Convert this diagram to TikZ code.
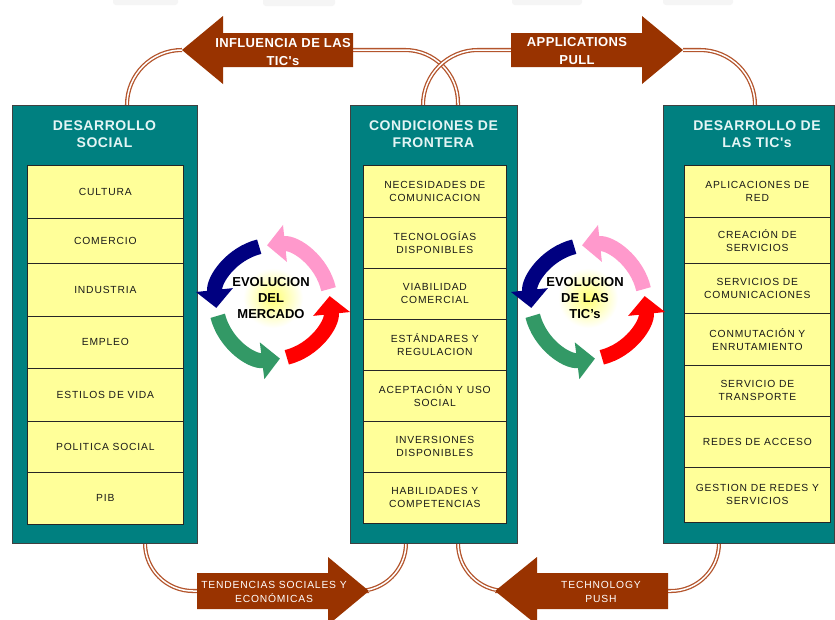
\documentclass[tikz,border=0pt]{standalone}
\usepackage{fontspec}
\setmainfont{Liberation Sans}
\usetikzlibrary{arrows.meta}
\newfontfamily\myCellFam[LetterSpace=8]{Liberation Sans}
\newfontfamily\myTitleFam[LetterSpace=4]{Liberation Sans}
\newfontfamily\myArrFam[LetterSpace=3]{Liberation Sans}
\newcommand\myCellFont{\myCellFam\fontsize{10.3}{13}\selectfont}
\newcommand\myTitleFont{\myTitleFam\bfseries\fontsize{14}{17}\selectfont}
\newcommand\myTopArrFont{\myArrFam\bfseries\fontsize{13}{18}\selectfont}
\newcommand\myBotArrFont{\myCellFam\fontsize{10.3}{14}\selectfont}
\newcommand\myCycFont{\bfseries\fontsize{13}{16}\selectfont}
\definecolor{tealbox}{RGB}{0,128,128}
\definecolor{cellyel}{RGB}{255,255,153}
\definecolor{arrowbrown}{RGB}{153,51,0}
\definecolor{linkbrown}{RGB}{180,85,45}
\definecolor{navyarr}{RGB}{0,0,128}
\definecolor{pinkarr}{RGB}{255,153,204}
\definecolor{redarr}{RGB}{255,0,0}
\definecolor{greenarr}{RGB}{51,153,102}
\definecolor{titlecol}{RGB}{228,245,245}
\begin{document}
\begin{tikzpicture}[x=1pt,y=1pt,
  frame/.style={draw=black!75, line width=0.8pt, fill=tealbox, inner sep=0pt, anchor=north west},
  cell/.style={draw=black!85, line width=0.7pt, fill=cellyel, inner sep=0pt, anchor=north west, align=center, font=\myCellFont, text=black!90},
  boxtitle/.style={align=center, text=titlecol, font=\myTitleFont, inner sep=0pt},
  bigarrow/.style={fill=arrowbrown, draw=none},
  toplabel/.style={align=center, text=white, inner sep=0pt, font=\myTopArrFont},
  botlabel/.style={align=center, text=white, inner sep=0pt, font=\myBotArrFont},
  link/.style={draw=linkbrown, double=white, line width=1.3pt, double distance=1.5pt},
  cyc/.style={line width=15pt, -{Triangle[length=18pt,width=36pt]}},
  cyctext/.style={align=center, font=\myCycFont, inner sep=0pt, text=black}
]
\useasboundingbox[fill=white] (0,0) rectangle (835,-619);
% faint shapes at the top edge
\fill[black!4, rounded corners=3pt] (113,2) rectangle (178,-5);
\fill[black!4, rounded corners=3pt] (263,2) rectangle (335,-6);
\fill[black!4, rounded corners=3pt] (512,2) rectangle (582,-5);
\fill[black!4, rounded corners=3pt] (663,2) rectangle (733,-5);

% named connection points
\coordinate (sTop) at (127,-105);
\coordinate (sBot) at (145,-543);
\coordinate (fTopA) at (423,-105);
\coordinate (fTopB) at (458,-105);
\coordinate (fBotA) at (406,-543);
\coordinate (fBotB) at (458,-543);
\coordinate (tTop) at (755,-105);
\coordinate (tBot) at (719,-543);

\coordinate (inflTip) at (182,-50);
\coordinate (inflTail) at (353,-50);
\coordinate (applTail) at (511,-50);
\coordinate (applTip) at (683,-50);
\coordinate (tendTail) at (197,-591);
\coordinate (tendTip) at (369,-591);
\coordinate (techTip) at (495,-591);
\coordinate (techTail) at (668,-591);

% connectors (double lines)
\draw[link] (sTop) arc[start angle=180, end angle=90, radius=55pt] -- (inflTip);
\draw[link] (inflTail) -- (405,-50) arc[start angle=90, end angle=0, radius=53pt] -- (fTopB);
\draw[link] (fTopA) arc[start angle=180, end angle=90, radius=55pt] -- (applTail);
\draw[link] (applTip) -- (700,-50) arc[start angle=90, end angle=0, radius=55pt] -- (tTop);
\draw[link] (sBot) arc[start angle=180, end angle=270, radius=48pt] -- (tendTail);
\draw[link] (tendTip) -- (358,-591) arc[start angle=270, end angle=360, radius=48pt] -- (fBotA);
\draw[link] (fBotB) arc[start angle=180, end angle=270, radius=48pt] -- (techTip);
\draw[link] (techTail) -- (671,-591) arc[start angle=270, end angle=360, radius=48pt] -- (tBot);

% outer boxes
\node[frame, minimum width=185pt, minimum height=438pt] (social) at (12,-105) {};
\node[frame, minimum width=167pt, minimum height=438pt] (front) at (350,-105) {};
\node[frame, minimum width=171pt, minimum height=438pt] (tics) at (663,-105) {};

\node[boxtitle] (socialT) at (104.5,-134.5) {DESARROLLO\\SOCIAL};
\node[boxtitle] (frontT) at (433.5,-134.5) {CONDICIONES DE\\FRONTERA};
\node[boxtitle] (ticsT) at (757,-134.5) {DESARROLLO DE\\LAS TIC's};

% left cells
\node[cell, minimum width=156pt, minimum height=53pt] (s1) at (27,-165) {CULTURA};
\node[cell, minimum width=156pt, minimum height=45pt] (s2) at (27,-218) {COMERCIO};
\node[cell, minimum width=156pt, minimum height=53pt] (s3) at (27,-263) {INDUSTRIA};
\node[cell, minimum width=156pt, minimum height=52pt] (s4) at (27,-316) {EMPLEO};
\node[cell, minimum width=156pt, minimum height=53pt] (s5) at (27,-368) {ESTILOS DE VIDA};
\node[cell, minimum width=156pt, minimum height=51pt] (s6) at (27,-421) {POLITICA SOCIAL};
\node[cell, minimum width=156pt, minimum height=52pt] (s7) at (27,-472) {PIB};

% middle cells
\node[cell, minimum width=143pt, minimum height=52pt] (f1) at (363,-165) {NECESIDADES DE\\COMUNICACION};
\node[cell, minimum width=143pt, minimum height=51pt] (f2) at (363,-217) {TECNOLOGÍAS\\DISPONIBLES};
\node[cell, minimum width=143pt, minimum height=51pt] (f3) at (363,-268) {VIABILIDAD\\COMERCIAL};
\node[cell, minimum width=143pt, minimum height=51pt] (f4) at (363,-319) {ESTÁNDARES Y\\REGULACION};
\node[cell, minimum width=143pt, minimum height=51pt] (f5) at (363,-370) {ACEPTACIÓN Y USO\\SOCIAL};
\node[cell, minimum width=143pt, minimum height=51pt] (f6) at (363,-421) {INVERSIONES\\DISPONIBLES};
\node[cell, minimum width=143pt, minimum height=51pt] (f7) at (363,-472) {HABILIDADES Y\\COMPETENCIAS};

% right cells
\node[cell, minimum width=146pt, minimum height=52pt] (t1) at (684,-165) {APLICACIONES DE\\RED};
\node[cell, minimum width=146pt, minimum height=46pt] (t2) at (684,-217) {CREACIÓN DE\\SERVICIOS};
\node[cell, minimum width=146pt, minimum height=50pt] (t3) at (684,-263) {SERVICIOS DE\\COMUNICACIONES};
\node[cell, minimum width=146pt, minimum height=52pt] (t4) at (684,-313) {CONMUTACIÓN Y\\ENRUTAMIENTO};
\node[cell, minimum width=146pt, minimum height=51pt] (t5) at (684,-365) {SERVICIO DE\\TRANSPORTE};
\node[cell, minimum width=146pt, minimum height=51pt] (t6) at (684,-416) {REDES DE ACCESO};
\node[cell, minimum width=146pt, minimum height=55pt] (t7) at (684,-467) {GESTION DE REDES Y\\SERVICIOS};

% big arrows
\fill[bigarrow] (inflTail) -- (353,-33) -- (223,-33) -- (223,-16) -- (inflTip) -- (223,-84) -- (223,-67) -- (353,-67) -- cycle;
\node[toplabel] (inflL) at (283,-52) {INFLUENCIA DE LAS\\TIC's};
\fill[bigarrow] (applTail) -- (511,-33) -- (642,-33) -- (642,-16) -- (applTip) -- (642,-84) -- (642,-67) -- (511,-67) -- cycle;
\node[toplabel] (applL) at (577,-51) {APPLICATIONS\\PULL};
\fill[bigarrow] (tendTail) -- (197,-573) -- (328,-573) -- (328,-557) -- (tendTip) -- (328,-625) -- (328,-609) -- (197,-609) -- cycle;
\node[botlabel] (tendL) at (274,-592) {TENDENCIAS SOCIALES Y\\ECONÓMICAS};
\fill[bigarrow] (techTail) -- (668,-573) -- (537,-573) -- (537,-557) -- (techTip) -- (537,-625) -- (537,-609) -- (668,-609) -- cycle;
\node[botlabel] (techL) at (601,-592) {TECHNOLOGY\\PUSH};

% cycles
\coordinate (cl) at (273,-302);
\coordinate (cr) at (588,-302);
\foreach \c in {cl,cr}{
  \shade[inner color=yellow!55!white, outer color=white] (\c) ++(0,4) circle (30pt);
  \draw[cyc, pinkarr] (\c) ++(13:57) arc[start angle=13, end angle=96, radius=57pt];
  \draw[cyc, navyarr] (\c) ++(104:57) arc[start angle=104, end angle=186, radius=57pt];
  \draw[cyc, greenarr] (\c) ++(194:57) arc[start angle=194, end angle=277, radius=57pt];
  \draw[cyc, redarr] (\c) ++(284:57) arc[start angle=284, end angle=366, radius=57pt];
}
\node[cyctext] (evoM) at (271,-298) {EVOLUCION\\DEL\\MERCADO};
\node[cyctext] (evoT) at (585,-298) {EVOLUCION\\DE LAS\\TIC's};
\end{tikzpicture}
\end{document}
